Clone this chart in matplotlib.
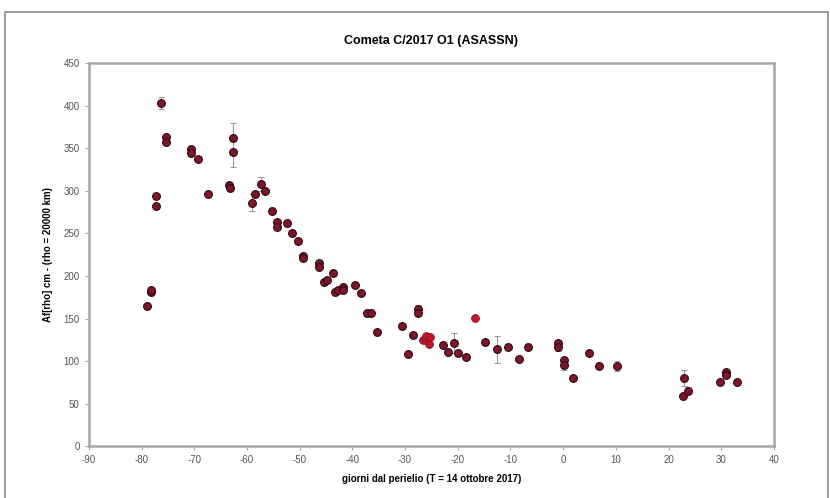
import numpy as np
import matplotlib
matplotlib.use("Agg")
import matplotlib.pyplot as plt
from matplotlib.patches import Rectangle

# giorni dal perielio / Af(rho) [cm]
giorni = [-79.0, -78.2, -78.2, -77.3, -77.3, -76.3, -75.4, -75.4,
          -70.6, -70.6, -69.3, -67.4, -63.4, -63.2, -62.7, -62.7,
          -59.1, -58.5, -57.4, -56.6, -55.3, -54.3, -54.3, -52.4,
          -51.5, -50.3, -49.4, -49.4, -46.4, -46.4, -45.4, -44.8,
          -43.7, -43.3, -42.8, -41.8, -41.8, -39.5, -38.4, -37.3,
          -36.5, -35.4, -30.6, -29.5, -28.5, -27.6, -27.6, -22.8,
          -21.9, -20.7, -20.0, -18.5, -14.9, -12.6, -10.5, -8.4,
          -6.7, -1.0, -1.0, 0.1, 0.1, 1.8, 4.9, 6.8,
          10.2, 22.9, 22.7, 23.7, 29.7, 30.9, 30.9, 33.0]
afrho = [165, 181, 184, 294, 282, 403, 363, 358,
         349, 345, 337, 296, 307, 303, 362, 346,
         286, 296, 308, 300, 276, 263, 258, 262,
         250, 241, 224, 221, 215, 210, 193, 195,
         203, 181, 183, 187, 183, 189, 180, 157,
         157, 134, 141, 108, 131, 161, 156, 119,
         111, 121, 109, 105, 122, 114, 116, 102,
         116, 121, 116, 101, 95, 80, 109, 94,
         94, 80, 59, 65, 76, 87, 84, 76]

# punti con barra d'errore
err_x = [-76.3, -62.7, -62.7, -59.1, -57.4, -27.6, -20.7, -12.6, -1.0, 0.1, 10.2, 22.9, 23.7]
err_y = [403, 362, 346, 286, 308, 161, 121, 114, 117, 95, 94, 80, 65]
err_e = [7, 18, 18, 10, 8, 5, 12, 16, 5, 5, 6, 9, 4]

# altro osservatore (rosso)
rossi_x = [-26.6, -26.0, -25.5, -25.3, -16.8]
rossi_y = [125, 130, 120, 128, 151]

plt.rcParams['font.family'] = ['Liberation Sans', 'DejaVu Sans']
plt.rcParams['axes.unicode_minus'] = False

fig = plt.figure(figsize=(8.3, 4.98), dpi=100)
ax = fig.add_axes([0.107, 0.104, 0.8255, 0.769])

fig.add_artist(Rectangle((0.006, -0.01), 0.991, 0.986, transform=fig.transFigure,
                         fill=False, edgecolor='#8c8c8c', linewidth=1.2))

ax.errorbar(err_x, err_y, yerr=err_e, fmt='none', ecolor='#9a9a9a',
            elinewidth=0.8, capsize=2.5, capthick=0.8, zorder=2)
ax.plot(giorni, afrho, 'o', ms=5.6, mfc='#7d1628', mec='#2a0a10', mew=0.8, zorder=3)
ax.plot(rossi_x, rossi_y, 'o', ms=5.6, mfc='#c0182a', mec='#8a1020', mew=0.6, zorder=3)

ax.set_xlim(-90, 40)
ax.set_ylim(0, 450)
ax.set_xticks(np.arange(-90, 41, 10))
ax.set_yticks(np.arange(0, 451, 50))

for s in ax.spines.values():
    s.set_color('#a6a6a6')
    s.set_linewidth(1.8)
ax.tick_params(direction='out', length=3, width=0.8, color='#a6a6a6',
               labelsize=7, labelcolor='#555555')

ax.set_title('Cometa C/2017 O1 (ASASSN)', fontsize=9, fontweight='bold', pad=14)
ax.set_xlabel('giorni dal perielio (T = 14 ottobre 2017)', fontsize=7, fontweight='bold', labelpad=6)
ax.set_ylabel('Af[rho] cm - (rho = 20000 km)', fontsize=7, fontweight='bold', labelpad=8)

fig.savefig('out.png', dpi=100)
